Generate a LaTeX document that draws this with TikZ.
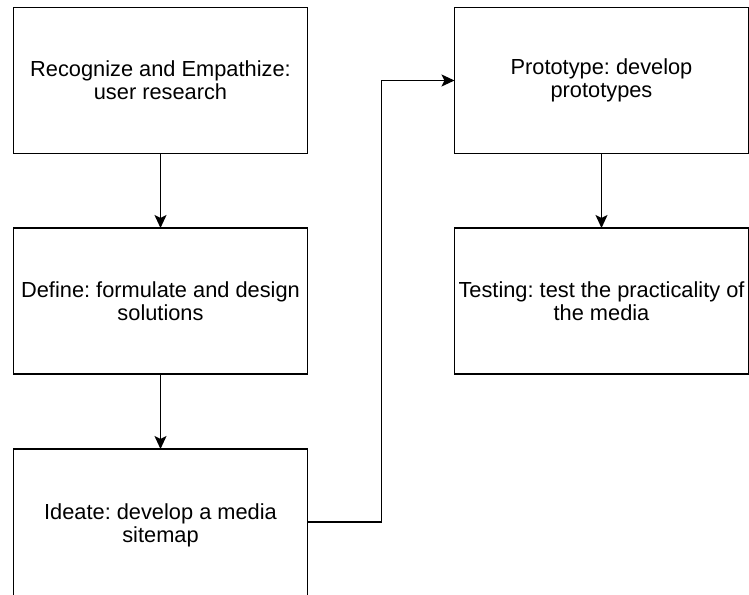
\documentclass[tikz,border=0pt]{standalone}
\usepackage{fontspec}
\setmainfont{Liberation Sans}
\usetikzlibrary{arrows.meta}
\frenchspacing

\tikzset{
  stage/.style={draw, line width=1.5pt, minimum width=294pt, minimum height=146pt,
    inner sep=0pt, outer sep=0pt, align=center, font=\fontsize{21.8}{23}\selectfont},
  flow/.style={line width=1.5pt, -{Stealth[length=13pt,width=12pt,inset=3pt]}}
}

\begin{document}
\begin{tikzpicture}[x=1pt,y=-1pt]
        \clip (0,0) rectangle (749,594);

        \node[stage] (1) at (160.5,80.5) {Recognize and Empathize:\\user research};
        \node[stage] (2) at (160.5,301) {Define: formulate and design\\solutions};
        \node[stage, minimum height=152pt] (3) at (160.5,525) {Ideate: develop a media\\sitemap};
        \node[stage] (4) at (601.5,80.5) {Prototype: develop\\prototypes};
        \node[stage] (5) at (601.5,301) {Testing: test the practicality of\\the media};

        \draw[flow] (1) -- (2);
        \draw[flow] (2) -- (3);
        \draw[flow] ([yshift=3pt]3.east) -- ++(74,0) |- (4.west);
        \draw[flow] (4) -- (5);
      \end{tikzpicture}
\end{document}
